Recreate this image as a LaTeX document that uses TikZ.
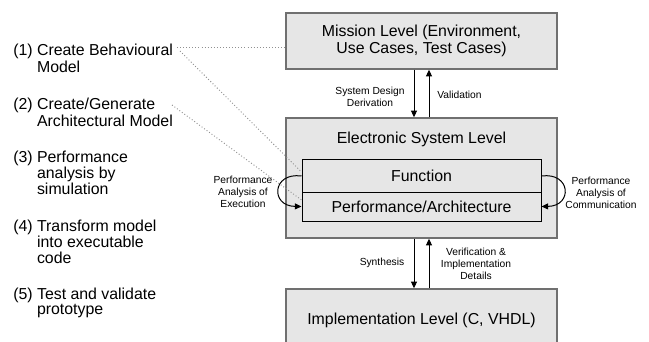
\documentclass[tikz,border=0pt]{standalone}
\usepackage{fontspec}
\setmainfont{Liberation Sans}
\usetikzlibrary{arrows.meta}
\definecolor{boxfill}{HTML}{E6E6E6}
\definecolor{boxborder}{HTML}{707070}
\definecolor{dotgray}{HTML}{909090}
\begin{document}
\begin{tikzpicture}[x=0.75pt,y=-0.75pt,
  outerbox/.style={draw=boxborder, line width=1.1pt, fill=boxfill, minimum width=203.25pt, inner sep=0pt, font=\fontsize{11.9}{12.6}\selectfont, align=center},
  innerbox/.style={draw=black, line width=0.75pt, fill=boxfill, minimum width=179.25pt, inner sep=0pt, font=\fontsize{11.9}{12.6}\selectfont},
  plainlabel/.style={inner sep=0pt, font=\fontsize{11.9}{12.6}\selectfont},
  small/.style={font=\fontsize{7.7}{8.8}\selectfont, align=center, inner sep=0pt},
  listitem/.style={font=\fontsize{11.9}{11.6}\selectfont, anchor=base west, inner sep=0pt},
  arr/.style={-{Triangle[length=5pt,width=4.5pt]}, line width=0.75pt},
  dots/.style={dotgray, line width=0.7pt, dash pattern=on 0.7pt off 1.6pt},
]
\useasboundingbox (0,0) rectangle (649,342);

% boxes
\node[outerbox, minimum height=42pt] (mission) at (421.5,41) {Mission Level (Environment,\\Use Cases, Test Cases)};
\node[outerbox, minimum height=90pt] (esl) at (421.5,178) {};
\node[plainlabel] (esltext) at (421.5,139) {Electronic System Level};
\node[innerbox, minimum height=24pt] (func) at (421.5,176) {Function};
\node[innerbox, minimum height=21.75pt] (perf) at (421.5,206.5) {Performance/Architecture};
\node[outerbox, minimum height=46.5pt] (impl) at (421.5,320) {Implementation Level (C, VHDL)};

% vertical arrows
\coordinate (cA) at (414,0);
\coordinate (cB) at (429,0);
\draw[arr] (mission.south -| cA) -- (esl.north -| cA);
\draw[arr] (esl.north -| cB) -- (mission.south -| cB);
\draw[arr] (esl.south -| cA) -- (impl.north -| cA);
\draw[arr] (impl.north -| cB) -- (esl.south -| cB);

% arrow labels
\node[small] (sdd) at (370,96.5) {System Design\\Derivation};
\node[small, anchor=west] (valid) at (437,95) {Validation};
\node[small] (synth) at (382,263) {Synthesis};
\node[small] (verif) at (476,264) {Verification \&\\Implementation\\Details};

% loop arrows
\draw[arr] (func.west) .. controls (272,172) and (270,206) .. (perf.west);
\draw[arr] (func.east) .. controls (571,172) and (573,206) .. (perf.east);
\node[small] (exec) at (243,192) {Performance\\Analysis of\\Execution};
\node[small] (comm) at (601,193) {Performance\\Analysis of\\Communication};

% left list
\node[listitem] (i1) at (13,56) {\begin{tabular}[t]{@{}l@{\ }l@{}}(1)&Create Behavioural\\&Model\end{tabular}};
\node[listitem] (i2) at (13,110) {\begin{tabular}[t]{@{}l@{\ }l@{}}(2)&Create/Generate\\&Architectural Model\end{tabular}};
\node[listitem] (i3) at (13,162) {\begin{tabular}[t]{@{}l@{\ }l@{}}(3)&Performance\\&analysis by\\&simulation\end{tabular}};
\node[listitem] (i4) at (13,231.7) {\begin{tabular}[t]{@{}l@{\ }l@{}}(4)&Transform model\\&into executable\\&code\end{tabular}};
\node[listitem] (i5) at (13,299) {\begin{tabular}[t]{@{}l@{\ }l@{}}(5)&Test and validate\\&prototype\end{tabular}};

% dotted connectors
\coordinate (l1a) at (177,47);
\coordinate (l1b) at (180,51);
\coordinate (l2) at (172,105);
\draw[dots] (l1a) -- (mission.west |- l1a);
\draw[dots] (l1b) -- ([yshift=3pt]func.west);
\draw[dots] (l2) -- ([yshift=4.9pt]perf.west);
\end{tikzpicture}
\end{document}
